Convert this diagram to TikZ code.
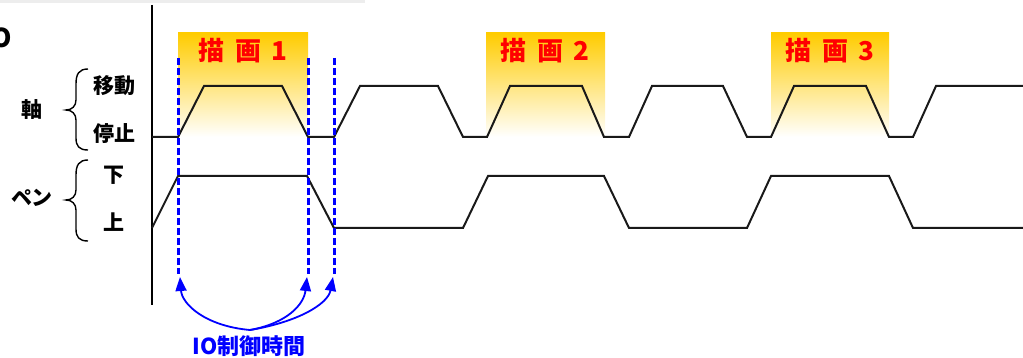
\documentclass[tikz,border=0pt]{standalone}
\usepackage{fontspec}
\newfontfamily\jp{Noto Sans CJK JP}[BoldFont={* Black}]
\usetikzlibrary{arrows.meta}
\definecolor{gold}{RGB}{255,204,0}
\definecolor{ioblue}{RGB}{0,0,255}
\definecolor{drawred}{RGB}{255,0,0}
\tikzset{
  signal/.style={line width=2pt, black!90, line join=miter},
  phase/.style={shading=axis, top color=gold, bottom color=white, draw=none},
  phaselabel/.style={font=\jp\bfseries\fontsize{26}{26}\selectfont, text=drawred, inner sep=0pt},
  sidelabel/.style={font=\jp\bfseries\fontsize{21}{21}\selectfont, inner sep=0pt},
  marker/.style={line width=3pt, ioblue, dash pattern=on 7pt off 3pt},
  iotime/.style={line width=1.8pt, ioblue, -{Triangle[length=14pt,width=11pt]}},
  curly/.style={line width=1.4pt, black}
}
\begin{document}
\begin{tikzpicture}[x=1pt, y=-1pt]
\useasboundingbox (0,0) rectangle (1023,358);

% faint shadow at the top edge
\fill[black!7] (0,0) rectangle (365,3);
% cut-off letter at the left edge
\node[font=\jp\bfseries\fontsize{26}{26}\selectfont, anchor=east, inner sep=0pt] (cut) at (12,38) {O};

% drawing phases
\fill[phase] (178,33) rectangle (308,137);
\fill[phase] (486,33) rectangle (605,137);
\fill[phase] (771,33) rectangle (889,137);
\node[phaselabel] (d1) at (243,51) {描\hspace{0.4em}画\hspace{0.4em}1};
\node[phaselabel] (d2) at (545,51) {描\hspace{0.4em}画\hspace{0.4em}2};
\node[phaselabel] (d3) at (830,51) {描\hspace{0.4em}画\hspace{0.4em}3};

% time axis
\draw[line width=1.6pt] (152,5) -- (152,305);

% axis signal: stop / move
\draw[signal] (152,137) -- (178,137) -- (204,86) -- (282,86) -- (308,137) -- (334,137)
  -- (360,86) -- (438,86) -- (463,137) -- (487,137) -- (510,86) -- (582,86)
  -- (604,137) -- (629,137) -- (652,86) -- (723,86) -- (747,137) -- (771,137)
  -- (794,86) -- (866,86) -- (889,137) -- (913,137) -- (936,86) -- (1023,86);

% pen signal: up / down
\draw[signal] (152,228) -- (178,176) -- (307,176) -- (334,228) -- (463,228)
  -- (488,176) -- (604,176) -- (629,228) -- (747,228) -- (771,176) -- (889,176)
  -- (913,228) -- (1023,228);

% left labels
\node[sidelabel] (ax) at (32,110) {軸};
\node[sidelabel] (pen) at (32,198) {ペン};
\node[sidelabel] (mv) at (114,86) {移動};
\node[sidelabel] (st) at (114,134) {停止};
\node[sidelabel] (dn) at (114,175) {下};
\node[sidelabel] (up) at (114,222) {上};
\draw[curly] (88,69) .. controls (79,69) and (76,74) .. (76,84) -- (76,100)
  .. controls (76,106) and (72,110) .. (66,110)
  .. controls (72,110) and (76,114) .. (76,120) -- (76,138)
  .. controls (76,146) and (79,150) .. (88,150);
\draw[curly] (88,160) .. controls (79,160) and (76,165) .. (76,175) -- (76,190)
  .. controls (76,196) and (72,200) .. (66,200)
  .. controls (72,200) and (76,204) .. (76,210) -- (76,229)
  .. controls (76,237) and (79,241) .. (88,241);

% IO control markers
\coordinate (m1t) at (178,58);
\coordinate (m1b) at (178,274);
\coordinate (m2t) at (308,58);
\coordinate (m2b) at (308,274);
\coordinate (m3t) at (334,58);
\coordinate (m3b) at (334,274);
\draw[marker] (m1t) -- (m1b);
\draw[marker] (m2t) -- (m2b);
\draw[marker] (m3t) -- (m3b);

\node[font=\jp\bfseries\fontsize{22}{22}\selectfont, text=ioblue, inner sep=0pt] (io) at (249,346) {IO制御時間};
\coordinate (src) at (250,330);
\draw[iotime] (src) .. controls (205,326) and (182,304) .. (180,277);
\draw[iotime] (src) .. controls (288,323) and (304,304) .. (307,277);
\draw[iotime] (src) .. controls (298,322) and (328,304) .. (333,277);
\end{tikzpicture}
\end{document}
